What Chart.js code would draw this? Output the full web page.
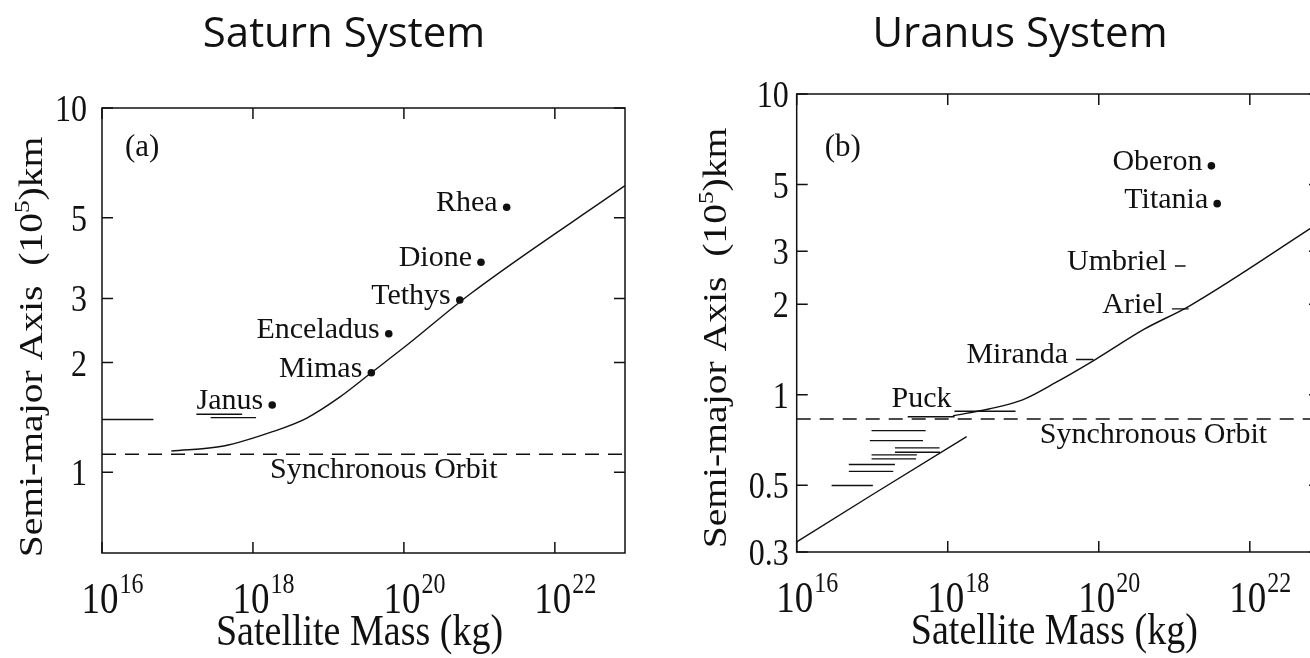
<!DOCTYPE html>
<html>
<head>
<meta charset="utf-8">
<script src="https://cdn.jsdelivr.net/npm/chart.js@4.4.1/dist/chart.umd.min.js"></script>
<style>
  html, body { margin: 0; padding: 0; background: #fff; overflow: hidden; }
  #wrap { position: relative; width: 1310px; height: 658px; overflow: hidden; }
  canvas { position: absolute; top: 0; }
  #saturn { left: 0; }
  #uranus { left: 655px; }
</style>
</head>
<body>
<div id="wrap">
  <canvas id="saturn" width="655" height="658"></canvas>
  <canvas id="uranus" width="675" height="658"></canvas>
</div>
<script>
const INK = '#111';
const SERIF = '"Liberation Serif", "Times New Roman", serif';
const SANS = '"Open Sans", "Noto Sans", sans-serif';

// mass axis (kg), shared by both panels
const massTicks = [1e16, 1e18, 1e20, 1e22];
const massMin = 1e16;
const massMax = 8.5e22;

// ---- Saturn ----
const saturnAxisTicks = [1, 2, 3, 5, 10];
const saturnCurveMass = [8.3e16, 4.1e17, 1.86e18, 5.1e18, 1.41e19, 3.7e19, 1.1e20, 7.4e20, 8.5e22];
const saturnCurveAxis = [1.143, 1.18, 1.294, 1.406, 1.607, 1.875, 2.234, 3.076, 6.12];
const saturnMoons = ['Rhea', 'Dione', 'Tethys', 'Enceladus', 'Mimas', 'Janus'];
const saturnMoonMass = [2.3e21, 1.05e21, 5.5e20, 6.3e19, 3.7e19, 1.8e18];
const saturnMoonAxis = [5.34, 3.77, 2.97, 2.40, 1.876, 1.53];
const saturnRangeLow = [1e16, 1.78e17, 2.75e17];
const saturnRangeHigh = [4.8e16, 7.2e17, 1.1e18];
const saturnRangeAxis = [1.396, 1.443, 1.412];
const saturnSync = 1.12;

// ---- Uranus ----
const uranusAxisTicks = [0.3, 0.5, 1, 2, 3, 5, 10];
const uranusOuterMass = [1.17e18, 3.5e18, 9.8e18, 2.7e19, 9.1e19, 4.0e20, 1.58e21, 6.0e22, 8.5e22];
const uranusOuterAxis = [0.851, 0.897, 0.962, 1.099, 1.312, 1.652, 1.972, 3.54, 3.75];
const uranusInnerMass = [1e16, 1e17, 1.78e18];
const uranusInnerAxis = [0.324, 0.465, 0.726];
const uranusMoons = ['Oberon', 'Titania'];
const uranusMoonMass = [3.1e21, 3.7e21];
const uranusMoonAxis = [5.77, 4.32];
const uranusRangeNames = ['Umbriel', 'Ariel', 'Miranda', '', 'Puck', '', '', '', '', '', '', '', '', ''];
const uranusRangeLow = [1.02e21, 9.3e20, 5.0e19, 2.95e17, 1.23e18, 9.8e16, 9.3e16, 2.0e17, 2.0e17, 9.8e16, 9.8e16, 4.9e16, 4.9e16, 2.9e16];
const uranusRangeHigh = [1.41e21, 1.55e21, 8.5e19, 1.23e18, 7.9e18, 5.1e17, 4.7e17, 7.8e17, 7.9e17, 3.9e17, 3.8e17, 2.0e17, 1.9e17, 1.02e17];
const uranusRangeAxis = [2.68, 1.93, 1.31, 0.845, 0.881, 0.760, 0.704, 0.666, 0.644, 0.631, 0.612, 0.586, 0.556, 0.499];
const uranusSync = 0.831;

function line(xs, ys, extra) {
  return Object.assign({
    data: xs.map((x, i) => ({ x, y: ys[i] })),
    showLine: true, borderColor: INK, borderWidth: 1.4, pointRadius: 0, fill: false
  }, extra);
}
function curve(xs, ys) {
  return line(xs, ys, { cubicInterpolationMode: 'monotone' });
}
function ranges(lo, hi, ys) {
  return lo.map((x, i) => line([x, hi[i]], [ys[i], ys[i]]));
}
function dots(xs, ys) {
  return {
    data: xs.map((x, i) => ({ x, y: ys[i] })),
    pointRadius: 3.8, pointBackgroundColor: INK, pointBorderWidth: 0, showLine: false
  };
}

// axis lettering is drawn a bit taller than the plain font
function stretched(ctx, text, x, y, sy) {
  ctx.save();
  ctx.translate(x, y);
  ctx.scale(1, sy);
  ctx.fillText(text, 0, 0);
  ctx.restore();
}

const figurePlugin = {
  id: 'figure',
  afterDraw(chart, _args, o) {
    const { ctx, chartArea: a, scales: { x, y } } = chart;
    ctx.save();
    ctx.fillStyle = INK;
    ctx.strokeStyle = INK;
    ctx.lineWidth = 1.5;

    // frame with inward ticks on all four sides
    ctx.strokeRect(a.left, a.top, a.right - a.left, a.bottom - a.top);
    ctx.beginPath();
    o.xTicks.forEach(v => {
      const px = x.getPixelForValue(v);
      ctx.moveTo(px, a.bottom); ctx.lineTo(px, a.bottom - 11);
      ctx.moveTo(px, a.top); ctx.lineTo(px, a.top + 11);
    });
    o.yTicks.forEach(v => {
      const py = y.getPixelForValue(v);
      ctx.moveTo(a.left, py); ctx.lineTo(a.left + 11, py);
      ctx.moveTo(a.right, py); ctx.lineTo(a.right - 11, py);
    });
    ctx.stroke();

    // y tick labels
    ctx.textBaseline = 'alphabetic';
    ctx.textAlign = 'right';
    ctx.font = `32px ${SERIF}`;
    o.yTicks.forEach(v => {
      stretched(ctx, String(v), a.left - o.yLabelGap, y.getPixelForValue(v) + 13, 1.2);
    });

    // x tick labels as powers of ten, the "10" sitting under the tick
    ctx.textAlign = 'left';
    o.xTicks.forEach(v => {
      const exp = String(Math.round(Math.log10(v)));
      ctx.font = `37px ${SERIF}`;
      const wb = ctx.measureText('10').width;
      const left = x.getPixelForValue(v) - wb / 2 - 2;
      stretched(ctx, '10', left, a.bottom + 60, 1.2);
      ctx.font = `24px ${SERIF}`;
      stretched(ctx, exp, left + wb + 1, a.bottom + 40, 1.2);
    });

    // x axis title
    ctx.textAlign = 'center';
    ctx.font = `38px ${SERIF}`;
    stretched(ctx, 'Satellite Mass (kg)', (a.left + a.right) / 2 - 4, a.bottom + 92, 1.15);

    // y axis title, rotated, with superscript exponent
    ctx.save();
    ctx.translate(o.yTitleX, o.yTitleY);
    ctx.rotate(-Math.PI / 2);
    ctx.scale(1.2, 1);
    ctx.textAlign = 'left';
    const parts = [['Semi-major Axis  (10', 33, 0], ['5', 21, -13], [')km', 33, 0]];
    let total = 0;
    parts.forEach(p => { ctx.font = `${p[1]}px ${SERIF}`; total += ctx.measureText(p[0]).width; });
    let cx = -total / 2;
    parts.forEach(p => {
      ctx.font = `${p[1]}px ${SERIF}`;
      ctx.fillText(p[0], cx, 11 + p[2]);
      cx += ctx.measureText(p[0]).width;
    });
    ctx.restore();

    // panel title
    ctx.textAlign = 'center';
    ctx.font = `42px ${SANS}`;
    ctx.fillText(o.title, o.titleX, 47);

    // panel letter
    ctx.textAlign = 'left';
    ctx.font = `31px ${SERIF}`;
    ctx.fillText(o.panel, a.left + o.panelDx, a.top + o.panelDy);

    // synchronous orbit caption below the dashed line
    ctx.font = `30px ${SERIF}`;
    ctx.fillText('Synchronous Orbit', a.left + o.syncDx, y.getPixelForValue(o.sync) + 24);

    // moon names, right-aligned just left of their mark
    ctx.textAlign = 'right';
    o.labels.forEach(l => {
      if (!l.text) return;
      ctx.fillText(l.text, x.getPixelForValue(l.x) + (l.dx ?? -9), y.getPixelForValue(l.y) + (l.dy ?? 4));
    });
    ctx.restore();
  }
};

function makeChart(id, datasets, padding, yMin, fig) {
  return new Chart(document.getElementById(id), {
    type: 'scatter',
    data: { datasets },
    plugins: [figurePlugin],
    options: {
      responsive: false,
      animation: false,
      layout: { padding },
      plugins: { legend: { display: false }, tooltip: { enabled: false }, figure: fig },
      scales: {
        x: { type: 'logarithmic', min: massMin, max: massMax, display: false },
        y: { type: 'logarithmic', min: yMin, max: 10, display: false }
      }
    }
  });
}

// Saturn panel
makeChart('saturn', [
  curve(saturnCurveMass, saturnCurveAxis),
  line([massMin, massMax], [saturnSync, saturnSync], { borderDash: [14, 9] }),
  ...ranges(saturnRangeLow, saturnRangeHigh, saturnRangeAxis),
  dots(saturnMoonMass, saturnMoonAxis)
], { left: 102, right: 30, top: 108, bottom: 105 }, 0.636, {
  title: 'Saturn System', titleX: 344, panel: '(a)', panelDx: 23, panelDy: 48,
  xTicks: massTicks, yTicks: saturnAxisTicks, yLabelGap: 15,
  yTitleX: 31, yTitleY: 347,
  sync: saturnSync, syncDx: 168,
  labels: saturnMoons.map((t, i) => ({ text: t, x: saturnMoonMass[i], y: saturnMoonAxis[i] }))
});

// Uranus panel
makeChart('uranus', [
  curve(uranusOuterMass, uranusOuterAxis),
  line(uranusInnerMass, uranusInnerAxis),
  line([massMin, massMax], [uranusSync, uranusSync], { borderDash: [14, 9] }),
  ...ranges(uranusRangeLow, uranusRangeHigh, uranusRangeAxis),
  dots(uranusMoonMass, uranusMoonAxis)
], { left: 141.7, right: 10, top: 94, bottom: 106 }, 0.3, {
  title: 'Uranus System', titleX: 365, panel: '(b)', panelDx: 28, panelDy: 62,
  xTicks: massTicks, yTicks: uranusAxisTicks, yLabelGap: 8,
  yTitleX: 60, yTitleY: 338,
  sync: uranusSync, syncDx: 243,
  labels: [
    ...uranusMoons.map((t, i) => ({ text: t, x: uranusMoonMass[i], y: uranusMoonAxis[i] })),
    ...uranusRangeNames.map((t, i) => ({
      text: t, x: uranusRangeLow[i], y: uranusRangeAxis[i],
      dx: t === 'Puck' ? -3 : -8, dy: t === 'Puck' ? -4 : 4
    }))
  ]
});
</script>
</body>
</html>
